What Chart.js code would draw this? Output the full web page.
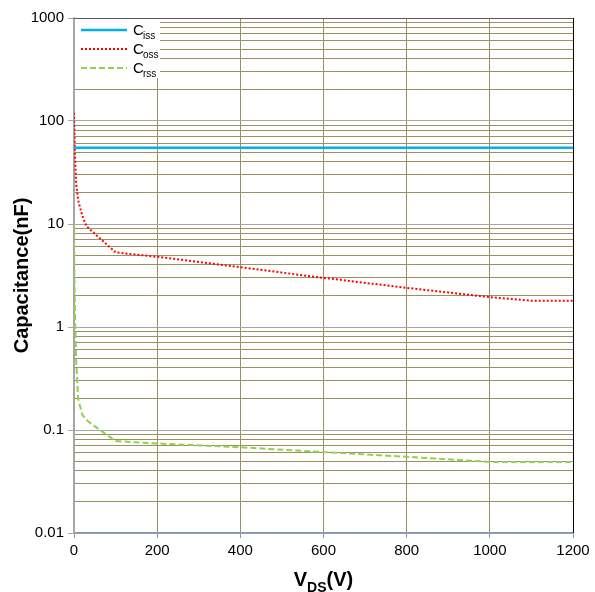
<!DOCTYPE html>
<html>
<head>
<meta charset="utf-8">
<script src="https://cdn.jsdelivr.net/npm/chart.js"></script>
<style>
  html, body { margin: 0; padding: 0; background: #fff; }
  #wrap { width: 595px; height: 592px; }
</style>
</head>
<body>
<div id="wrap"><canvas id="cap"></canvas></div>
<script>
// values (V in volts, C in nF)
const ciss_v = [0, 1200];
const ciss_c = [55, 55];

const coss_v = [0, 2, 5, 10, 20, 30, 100, 200, 400, 600, 800, 1000, 1100, 1200];
const coss_c = [120, 50, 25, 17, 12, 9.5, 5.3, 4.8, 3.8, 3.0, 2.4, 1.95, 1.8, 1.8];

const crss_v = [0, 1, 3, 5, 10, 20, 35, 100, 200, 400, 600, 800, 1000, 1200];
const crss_c = [10, 3, 1, 0.5, 0.2, 0.14, 0.12, 0.078, 0.074, 0.068, 0.061, 0.055, 0.049, 0.049];

const xTicks = [0, 200, 400, 600, 800, 1000, 1200];
const yDecades = [0.01, 0.1, 1, 10, 100, 1000];

const legendItems = [
    { sub: 'iss', color: '#00b0f0', dash: [], width: 2.5 },
    { sub: 'oss', color: '#ff0000', dash: [2, 2], width: 2 },
    { sub: 'rss', color: '#92d050', dash: [6, 3], width: 2 },
];

const toPoints = (xs, ys) => xs.map((x, i) => ({ x: x, y: ys[i] }));
const isDecade = v => Math.abs(Math.log10(v) - Math.round(Math.log10(v))) < 1e-6;
const tickFont = { family: 'Liberation Sans', size: 15 };

const extras = {
    id: 'extras',
    afterDraw(chart) {
        const ctx = chart.ctx;
        const a = chart.chartArea;
        ctx.save();
        // frame: top and right border
        ctx.strokeStyle = '#595959';
        ctx.lineWidth = 1;
        ctx.beginPath();
        ctx.moveTo(a.left, a.top + 0.5);
        ctx.lineTo(a.right, a.top + 0.5);
        ctx.stroke();
        ctx.strokeStyle = '#000';
        ctx.beginPath();
        ctx.moveTo(a.right + 0.5, a.top);
        ctx.lineTo(a.right + 0.5, a.bottom);
        ctx.stroke();

        // legend box
        ctx.fillStyle = '#fff';
        ctx.fillRect(a.left + 1, a.top + 1, 85, 59);
        legendItems.forEach((it, i) => {
            const y = a.top + 12 + i * 19;
            ctx.strokeStyle = it.color;
            ctx.lineWidth = it.width;
            ctx.setLineDash(it.dash);
            ctx.beginPath();
            ctx.moveTo(a.left + 7, y);
            ctx.lineTo(a.left + 53, y);
            ctx.stroke();
            ctx.setLineDash([]);
            ctx.fillStyle = '#000';
            ctx.textBaseline = 'alphabetic';
            ctx.font = '15px "Liberation Sans"';
            ctx.fillText('C', a.left + 59, y + 5);
            ctx.font = '10px "Liberation Sans"';
            ctx.fillText(it.sub, a.left + 69, y + 9);
        });

        // axis titles
        ctx.fillStyle = '#000';
        ctx.font = 'bold 20px "Liberation Sans"';
        ctx.textBaseline = 'alphabetic';
        const cx = (a.left + a.right) / 2;
        const wV = ctx.measureText('V').width;
        ctx.font = 'bold 14px "Liberation Sans"';
        const wDS = ctx.measureText('DS').width;
        ctx.font = 'bold 20px "Liberation Sans"';
        const wRest = ctx.measureText('(V)').width;
        let x0 = cx - (wV + wDS + wRest) / 2;
        ctx.fillText('V', x0, 586);
        ctx.font = 'bold 14px "Liberation Sans"';
        ctx.fillText('DS', x0 + wV, 592);
        ctx.font = 'bold 20px "Liberation Sans"';
        ctx.fillText('(V)', x0 + wV + wDS, 586);

        ctx.translate(28, (a.top + a.bottom) / 2);
        ctx.rotate(-Math.PI / 2);
        ctx.textAlign = 'center';
        ctx.fillText('Capacitance(nF)', 0, 0);
        ctx.restore();
    }
};

new Chart(document.getElementById('cap'), {
    type: 'line',
    data: {
        datasets: [
            { label: 'Ciss', data: toPoints(ciss_v, ciss_c), borderColor: '#00b0f0', borderWidth: 2.5, pointRadius: 0, tension: 0 },
            { label: 'Coss', data: toPoints(coss_v, coss_c), borderColor: '#ff0000', borderWidth: 2, borderDash: [2, 2], pointRadius: 0, tension: 0 },
            { label: 'Crss', data: toPoints(crss_v, crss_c), borderColor: '#92d050', borderWidth: 2, borderDash: [6, 3], pointRadius: 0, tension: 0 },
        ]
    },
    options: {
        responsive: true,
        maintainAspectRatio: false,
        animation: false,
        layout: { padding: { left: 0, top: 18, right: 22, bottom: 0 } },
        plugins: { legend: { display: false }, tooltip: { enabled: false } },
        scales: {
            x: {
                type: 'linear',
                min: 0,
                max: 1200,
                afterBuildTicks: axis => { axis.ticks = xTicks.map(v => ({ value: v })); },
                afterFit: axis => { axis.height = 59; },
                ticks: { color: '#000', font: tickFont, padding: 4, maxRotation: 0, callback: v => String(v) },
                grid: {
                    color: c => c.tick.value === 0 ? '#a6a6a6' : (c.tick.value === 1200 ? '#000' : '#9a9060'),
                    tickColor: '#8497b0',
                    tickLength: 5,
                    lineWidth: 1,
                },
                border: { display: true, color: '#8497b0', width: 1.5 },
            },
            y: {
                type: 'logarithmic',
                min: 0.01,
                max: 1000,
                afterBuildTicks: axis => {
                    const t = [];
                    yDecades.forEach((d, i) => {
                        if (i === yDecades.length - 1) { t.push({ value: d }); return; }
                        for (let k = 1; k <= 9; k++) t.push({ value: d * k });
                    });
                    axis.ticks = t;
                },
                afterFit: axis => { axis.width = 74; },
                ticks: {
                    color: '#000',
                    font: tickFont,
                    padding: 4,
                    autoSkip: false,
                    callback: v => isDecade(v) ? String(+v.toPrecision(3)) : '',
                },
                grid: {
                    color: c => isDecade(c.tick.value) ? '#a6a6a6' : '#9a9060',
                    tickColor: c => isDecade(c.tick.value) ? '#a6a6a6' : 'rgba(0,0,0,0)',
                    tickLength: 6,
                    lineWidth: 1,
                },
                border: { display: true, color: '#a6a6a6', width: 1.5 },
            }
        }
    },
    plugins: [extras]
});
</script>
</body>
</html>
